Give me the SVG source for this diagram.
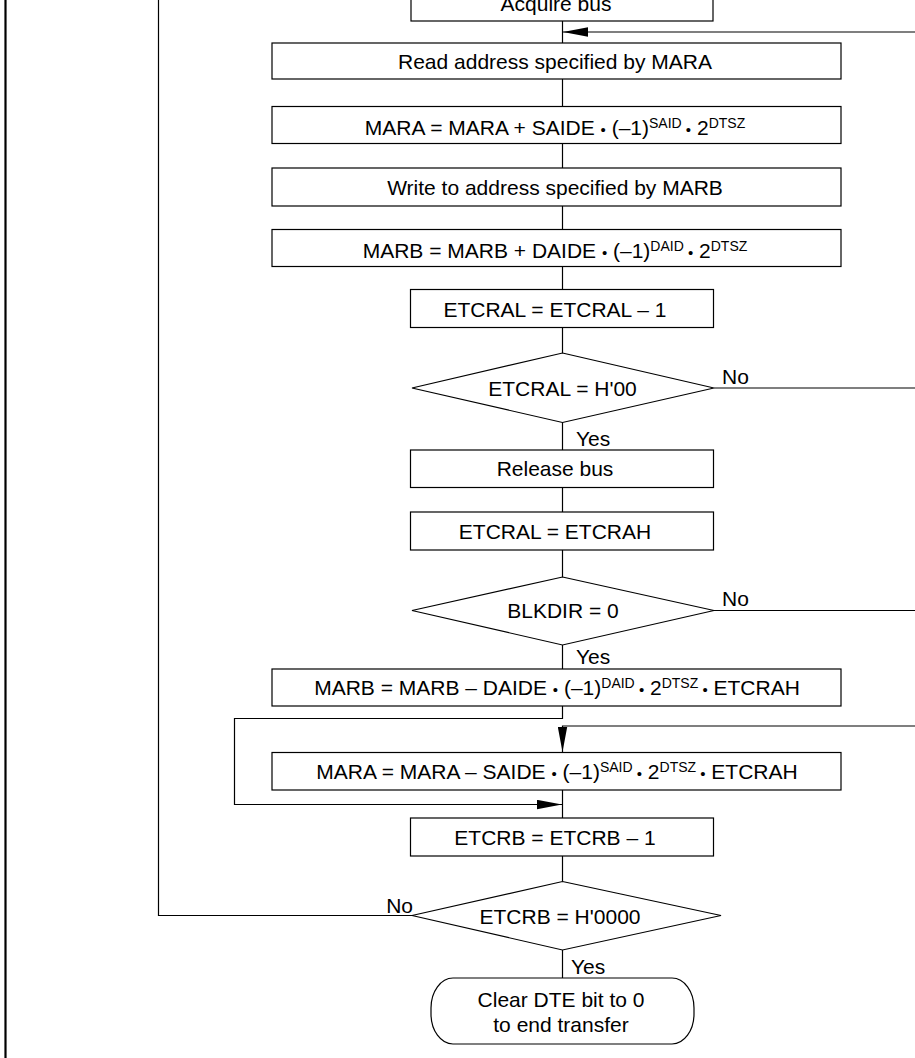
<svg xmlns="http://www.w3.org/2000/svg" width="915" height="1058" viewBox="0 0 915 1058">
  <style>
    .box { fill: #fff; stroke: #000; stroke-width: 1.2; }
    .wire { fill: none; stroke: #000; stroke-width: 1.2; }
    .t { font-family: "Liberation Sans", Arial, sans-serif; font-size: 21px; fill: #000; text-anchor: middle; }
    .lbl { font-family: "Liberation Sans", Arial, sans-serif; font-size: 21px; fill: #000; }
    .sup { font-size: 14px; }
    .dot { font-size: 15px; }
  </style>
  <defs>
    <marker id="arrow" markerUnits="userSpaceOnUse" markerWidth="26" markerHeight="10" refX="25" refY="5" orient="auto">
      <path d="M0,0.3 L25,5 L0,9.7 z" fill="#000"/>
    </marker>
  </defs>
  <rect width="915" height="1058" fill="#fff"/>
  <!-- page frame edge -->
  <line x1="5.5" y1="0" x2="5.5" y2="1058" stroke="#000" stroke-width="2.2"/>

  <!-- connectors -->
  <g id="connectors">
    <path class="wire" d="M562.5,21 V43"/>
    <path class="wire" d="M915,32 H563" marker-end="url(#arrow)"/>
    <path class="wire" d="M562.5,79 V107"/>
    <path class="wire" d="M562.5,144 V168"/>
    <path class="wire" d="M562.5,206 V230"/>
    <path class="wire" d="M562.5,267 V290"/>
    <path class="wire" d="M562.5,328 V353"/>
    <path class="wire" d="M714,388 H915"/>
    <path class="wire" d="M562.5,422 V450"/>
    <path class="wire" d="M562.5,487 V512"/>
    <path class="wire" d="M562.5,550 V577"/>
    <path class="wire" d="M714,610.5 H915"/>
    <path class="wire" d="M562.5,645 V669"/>
    <path class="wire" d="M562.5,706 V718.5 H234.5 V804.5 H562" marker-end="url(#arrow)"/>
    <path class="wire" d="M915,726 H562.5 V752" marker-end="url(#arrow)"/>
    <path class="wire" d="M562.5,790 V818"/>
    <path class="wire" d="M562.5,856 V881"/>
    <path class="wire" d="M412,915.5 H158.5 V0"/>
    <path class="wire" d="M562.5,950 V978"/>
  </g>

  <g id="acquire-bus">
    <rect class="box" x="411" y="-20" width="302" height="41"/>
    <text class="t" x="556" y="10.5">Acquire bus</text>
  </g>

  <g id="read-mara">
    <rect class="box" x="272" y="43" width="569" height="36"/>
    <text class="t" x="555" y="68.5">Read address specified by MARA</text>
  </g>

  <g id="update-mara">
    <rect class="box" x="272" y="106.5" width="569" height="37"/>
    <text class="t" x="555" y="135">MARA = MARA + SAIDE <tspan class="dot">•</tspan> (–1)<tspan class="sup" dy="-7">SAID</tspan><tspan class="dot" dy="7"> •</tspan> 2<tspan class="sup" dy="-7">DTSZ</tspan></text>
  </g>

  <g id="write-marb">
    <rect class="box" x="272" y="168" width="569" height="38"/>
    <text class="t" x="555" y="194.5">Write to address specified by MARB</text>
  </g>

  <g id="update-marb">
    <rect class="box" x="272" y="229.5" width="569" height="37"/>
    <text class="t" x="555" y="257.5">MARB = MARB + DAIDE <tspan class="dot">•</tspan> (–1)<tspan class="sup" dy="-7">DAID</tspan><tspan class="dot" dy="7"> •</tspan> 2<tspan class="sup" dy="-7">DTSZ</tspan></text>
  </g>

  <g id="dec-etcral">
    <rect class="box" x="410.5" y="289.5" width="303" height="38"/>
    <text class="t" x="555" y="316.5">ETCRAL = ETCRAL – 1</text>
  </g>

  <g id="check-etcral">
    <polygon class="box" points="562.5,353 714,388 562.5,422.5 412,388"/>
    <text class="t" x="562.5" y="395.5">ETCRAL = H'00</text>
    <text class="lbl" x="722" y="383.5">No</text>
    <text class="lbl" x="576" y="445.5">Yes</text>
  </g>

  <g id="release-bus">
    <rect class="box" x="410.5" y="450" width="303" height="37.5"/>
    <text class="t" x="555" y="476">Release bus</text>
  </g>

  <g id="reload-etcral">
    <rect class="box" x="410.5" y="512" width="303" height="38"/>
    <text class="t" x="555" y="538.5">ETCRAL = ETCRAH</text>
  </g>

  <g id="check-blkdir">
    <polygon class="box" points="562.5,577 714,610.5 562.5,645 412,610.5"/>
    <text class="t" x="563" y="618">BLKDIR = 0</text>
    <text class="lbl" x="722" y="605.5">No</text>
    <text class="lbl" x="576" y="664">Yes</text>
  </g>

  <g id="rewind-marb">
    <rect class="box" x="272" y="669" width="569" height="37"/>
    <text class="t" x="557" y="695">MARB = MARB – DAIDE <tspan class="dot">•</tspan> (–1)<tspan class="sup" dy="-7">DAID</tspan><tspan class="dot" dy="7"> •</tspan> 2<tspan class="sup" dy="-7">DTSZ</tspan><tspan class="dot" dy="7"> •</tspan> ETCRAH</text>
  </g>

  <g id="rewind-mara">
    <rect class="box" x="272" y="752.5" width="569" height="37.5"/>
    <text class="t" x="557" y="779">MARA = MARA – SAIDE <tspan class="dot">•</tspan> (–1)<tspan class="sup" dy="-7">SAID</tspan><tspan class="dot" dy="7"> •</tspan> 2<tspan class="sup" dy="-7">DTSZ</tspan><tspan class="dot" dy="7"> •</tspan> ETCRAH</text>
  </g>

  <g id="dec-etcrb">
    <rect class="box" x="410.5" y="818" width="303" height="38"/>
    <text class="t" x="555" y="844.5">ETCRB = ETCRB – 1</text>
  </g>

  <g id="check-etcrb">
    <polygon class="box" points="562.5,881.5 721,915.5 562.5,950 412,915.5"/>
    <text class="t" x="560" y="923.5">ETCRB = H'0000</text>
    <text class="lbl" x="413" y="912.5" text-anchor="end">No</text>
    <text class="lbl" x="571" y="974">Yes</text>
  </g>

  <g id="end-transfer">
    <rect class="box" x="431" y="978" width="263" height="66" rx="22" ry="30"/>
    <text class="t" x="561" y="1007">Clear DTE bit to 0</text>
    <text class="t" x="561" y="1032">to end transfer</text>
  </g>
</svg>
